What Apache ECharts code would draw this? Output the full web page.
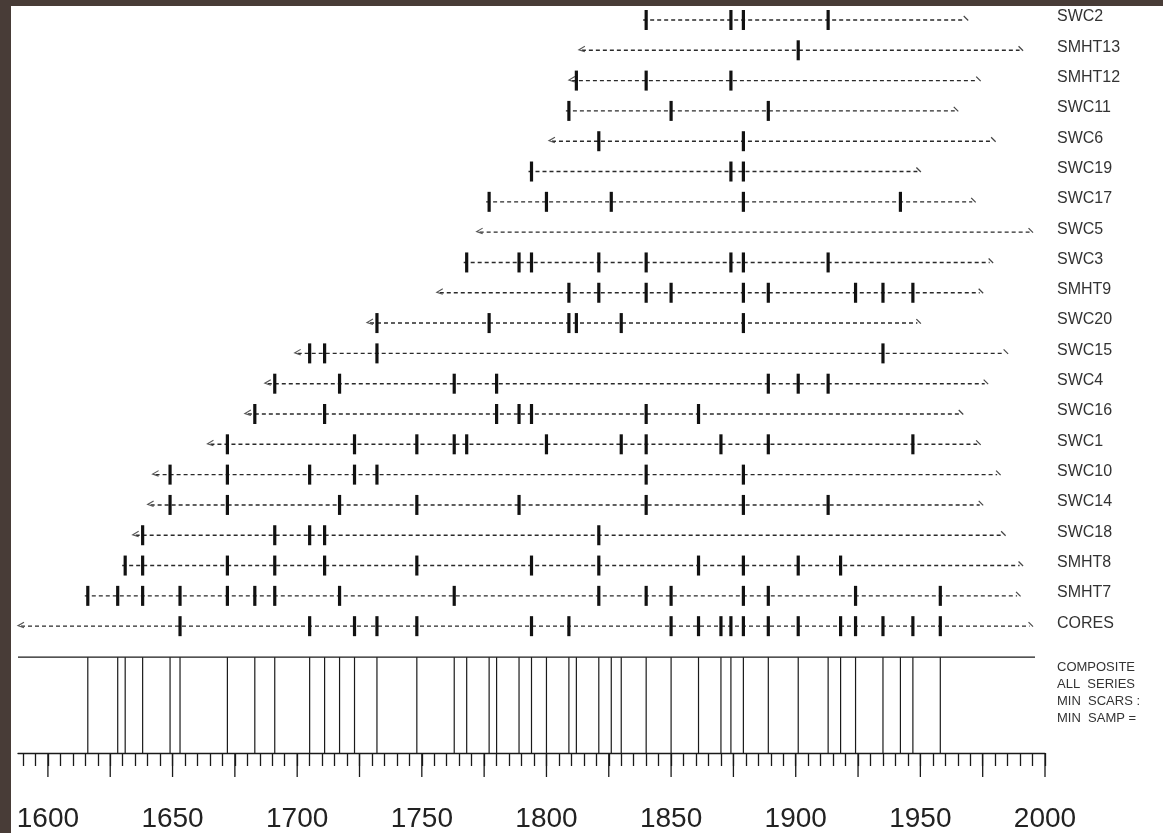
<!DOCTYPE html>
<html>
<head>
<meta charset="utf-8">
<script src="https://cdn.jsdelivr.net/npm/echarts@6/dist/echarts.min.js"></script>
<style>
html,body{margin:0;padding:0;background:#fff;}
#c{width:1163px;height:833px;}
</style>
</head>
<body>
<div id="c"></div>
<script>
// ---------------- DATA ----------------
const rowNames = ['SWC2','SMHT13','SMHT12','SWC11','SWC6','SWC19','SWC17','SWC5','SWC3','SMHT9','SWC20',
  'SWC15','SWC4','SWC16','SWC1','SWC10','SWC14','SWC18','SMHT8','SMHT7','CORES'];
const firstYears = [1840,1813,1809,1809,1801,1794,1777,1772,1768,1756,1728,1699,1687,1679,1664,1642,1640,1634,1631,1616,1588];
const lastYears  = [1969,1991,1974,1965,1980,1950,1972,1995,1979,1975,1950,1985,1977,1967,1974,1982,1975,1984,1991,1990,1995];
// 'inner' = inner ring date ("<"), 'pith' = series begins at a scar
const firstTypes = ['pith','inner','inner','pith','inner','pith','pith','inner','pith','inner','inner',
  'inner','inner','inner','inner','inner','inner','inner','pith','pith','inner'];

const SWC2   = [1840,1874,1879,1913];
const SMHT13 = [1901];
const SMHT12 = [1812,1840,1874];
const SWC11  = [1809,1850,1889];
const SWC6   = [1821,1879];
const SWC19  = [1794,1874,1879];
const SWC17  = [1777,1800,1826,1879,1942];
const SWC5   = [];
const SWC3   = [1768,1789,1794,1821,1840,1874,1879,1913];
const SMHT9  = [1809,1821,1840,1850,1879,1889,1924,1935,1947];
const SWC20  = [1732,1777,1809,1812,1830,1879];
const SWC15  = [1705,1711,1732,1935];
const SWC4   = [1691,1717,1763,1780,1889,1901,1913];
const SWC16  = [1683,1711,1780,1789,1794,1840,1861];
const SWC1   = [1672,1723,1748,1763,1768,1800,1830,1840,1870,1889,1947];
const SWC10  = [1649,1672,1705,1723,1732,1840,1879];
const SWC14  = [1649,1672,1717,1748,1789,1840,1879,1913];
const SWC18  = [1638,1691,1705,1711,1821];
const SMHT8  = [1631,1638,1672,1691,1711,1748,1794,1821,1861,1879,1901,1918];
const SMHT7  = [1616,1628,1638,1653,1672,1683,1691,1717,1763,1821,1840,1850,1879,1889,1924,1958];
const CORES  = [1653,1705,1723,1732,1748,1794,1809,1850,1861,1870,1874,1879,1889,1901,1918,1924,1935,1947,1958];
const scarYears = [SWC2,SMHT13,SMHT12,SWC11,SWC6,SWC19,SWC17,SWC5,SWC3,SMHT9,SWC20,SWC15,SWC4,SWC16,SWC1,SWC10,SWC14,SWC18,SMHT8,SMHT7,CORES];

const axisLabelYears = [1600,1650,1700,1750,1800,1850,1900,1950,2000];
const majorTickYears = [1600,1625,1650,1675,1700,1725,1750,1775,1800,1825,1850,1875,1900,1925,1950,1975,2000];
const minorTickYears = [];
for (let y = 1590; y <= 2000; y += 5) minorTickYears.push(y);

const compositeText = ['COMPOSITE','ALL  SERIES','MIN  SCARS :','MIN  SAMP ='];

// composite = every year scarred in any series
const compositeYears = Array.from(new Set([].concat(...scarYears))).sort((a,b)=>a-b);

// ---------------- LAYOUT ----------------
const ROW0 = 20, ROWSTEP = 30.35, AXIS_Y = 754, COMP_TOP = 658;
const yMin = -ROW0/ROWSTEP;
const yMax = yMin + AXIS_Y/ROWSTEP;
const compTopVal = (COMP_TOP-ROW0)/ROWSTEP;

const chart = echarts.init(document.getElementById('c'), null, {renderer:'canvas'});

function renderRow(params, api) {
  const i = params.dataIndex;
  const ps = api.coord([firstYears[i], i]);
  const pe = api.coord([lastYears[i], i]);
  const xs = ps[0], y = ps[1], xe = pe[0];
  const ch = [];
  const inner = firstTypes[i] === 'inner';
  ch.push({type:'line', shape:{x1: inner ? xs+3 : xs-3, y1:y, x2:xe-3, y2:y},
    style:{stroke:'#2a2a2a', lineWidth:1.4, lineDash:[4,3]}});
  if (inner) {
    ch.push({type:'polyline', shape:{points:[[xs+6,y-4],[xs,y-0.5],[xs+6,y+1.5]]},
      style:{stroke:'#555', lineWidth:1.1, fill:null}});
  }
  ch.push({type:'line', shape:{x1:xe-4, y1:y-4, x2:xe+0.5, y2:y+0.5},
    style:{stroke:'#444', lineWidth:1.2}});
  scarYears[i].forEach(function (yr) {
    const p = api.coord([yr, i]);
    ch.push({type:'rect', shape:{x:p[0]-1.6, y:y-10, width:3.2, height:20}, style:{fill:'#111'}});
  });
  ch.push({type:'text', style:{text: rowNames[i], x:1057, y:y-3, font:'16px "Liberation Sans", Arial, sans-serif',
    fill:'#333', verticalAlign:'middle', align:'left'}});
  return {type:'group', children: ch};
}

function renderComposite(params, api) {
  const yr = compositeYears[params.dataIndex];
  const t = api.coord([yr, compTopVal]);
  const b = api.coord([yr, yMax]);
  return {type:'line', shape:{x1:t[0], y1:t[1], x2:b[0], y2:b[1]}, style:{stroke:'#1a1a1a', lineWidth:1.2}};
}

function renderCompTop(params, api) {
  const a = api.coord([1588, compTopVal]);
  const b = api.coord([1996, compTopVal]);
  const ch = [{type:'line', shape:{x1:a[0], y1:a[1], x2:b[0], y2:b[1]}, style:{stroke:'#1a1a1a', lineWidth:1.3}}];
  compositeText.forEach(function (t, k) {
    ch.push({type:'text', style:{text:t, x:1057, y:667 + k*17, font:'13px "Liberation Sans", Arial, sans-serif',
      fill:'#333', verticalAlign:'middle', align:'left'}});
  });
  return {type:'group', children: ch};
}

function renderMajorTick(params, api) {
  const yr = majorTickYears[params.dataIndex];
  const p = api.coord([yr, yMax]);
  return {type:'line', shape:{x1:p[0], y1:p[1], x2:p[0], y2:p[1]+24}, style:{stroke:'#1a1a1a', lineWidth:1.3}};
}

const option = {
  backgroundColor:'#ffffff',
  animation:false,
  grid:{left:18, right:118, top:0, bottom:833-AXIS_Y, containLabel:false},
  xAxis:{
    type:'value', min:1588, max:2000, position:'bottom',
    splitLine:{show:false},
    axisLine:{show:true, onZero:false, lineStyle:{color:'#1a1a1a', width:1.3}},
    axisTick:{show:true, customValues:minorTickYears, length:13, lineStyle:{color:'#1a1a1a', width:1.3}},
    axisLabel:{show:true, customValues:axisLabelYears, margin:52, fontSize:28,
      formatter:function(v){return String(v);},
      fontFamily:'"Liberation Sans", Arial, sans-serif', color:'#222'}
  },
  yAxis:{type:'value', inverse:true, min:yMin, max:yMax, show:false},
  series:[
    {type:'custom', renderItem:renderCompTop, data:[[1588, compTopVal]], encode:{x:0, y:1}, silent:true, clip:false},
    {type:'custom', renderItem:renderComposite, data:compositeYears.map(function(y){return [y, compTopVal];}),
      encode:{x:0, y:1}, silent:true, clip:false},
    {type:'custom', renderItem:renderMajorTick, data:majorTickYears.map(function(y){return [y, yMax];}),
      encode:{x:0, y:1}, silent:true, clip:false},
    {type:'custom', renderItem:renderRow,
      data:rowNames.map(function(n,i){return [firstYears[i], i, lastYears[i]];}),
      encode:{x:[0,2], y:1}, silent:true, clip:false}
  ],
  graphic:[
    {type:'rect', left:0, top:0, shape:{width:1163, height:6}, style:{fill:'#483c37'}, z:100},
    {type:'rect', left:0, top:0, shape:{width:11, height:833}, style:{fill:'#483c37'}, z:100}
  ]
};
chart.setOption(option);
</script>
</body>
</html>
